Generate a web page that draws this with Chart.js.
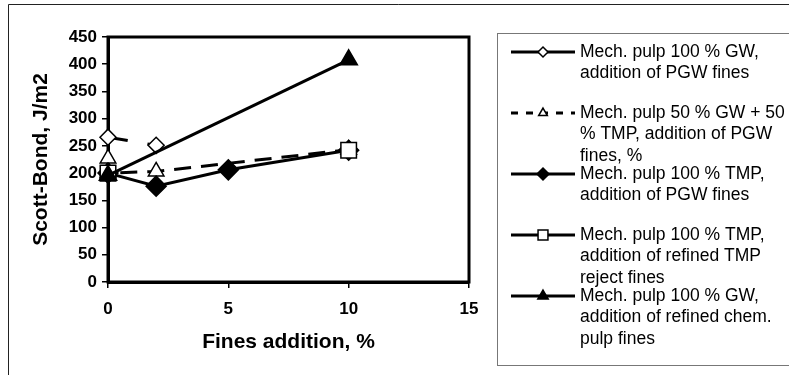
<!DOCTYPE html>
<html>
<head>
<meta charset="utf-8">
<script src="https://cdn.jsdelivr.net/npm/chart.js@4.4.1/dist/chart.umd.min.js"></script>
<style>
  html, body { margin: 0; padding: 0; background: #fff; }
  #wrap { width: 789px; height: 375px; }
</style>
</head>
<body>
<div id="wrap"><canvas id="scottChart" width="789" height="375"></canvas></div>
<script>
// Scott-Bond vs. fines addition
const gwPgwX = [0, 2];
const gwPgwY = [266, 251];
const mixPgwX = [0, 0, 2, 10];
const mixPgwY = [227, 200, 203, 243];
const tmpPgwX = [0, 2, 5, 10];
const tmpPgwY = [200, 176, 206, 242];
const tmpRejectX = [0, 10];
const tmpRejectY = [200, 242];
const gwChemX = [0, 10];
const gwChemY = [196, 408];

const xTicks = [0, 5, 10, 15];
const yTicks = [0, 50, 100, 150, 200, 250, 300, 350, 400, 450];

const legendLines = [
  ['Mech. pulp 100 % GW,', 'addition of PGW fines'],
  ['Mech. pulp 50 % GW + 50', '% TMP, addition of PGW', 'fines, %'],
  ['Mech. pulp 100 % TMP,', 'addition of PGW fines'],
  ['Mech. pulp 100 % TMP,', 'addition of refined TMP', 'reject fines'],
  ['Mech. pulp 100 % GW,', 'addition of refined chem.', 'pulp fines']
];

const FONT = '"Liberation Sans", Arial, sans-serif';
const pts = (xs, ys) => xs.map((x, i) => ({ x: x, y: ys[i] }));

const frameAndLegend = {
  id: 'frameAndLegend',
  beforeDatasetsDraw(chart) {
    const { ctx, chartArea: a } = chart;
    ctx.save();
    ctx.strokeStyle = '#000';
    ctx.lineWidth = 3;
    ctx.strokeRect(a.left, a.top, a.right - a.left, a.bottom - a.top);
    ctx.restore();
  },
  afterDraw(chart) {
    const ctx = chart.ctx;
    ctx.save();
    // outer chart border
    ctx.strokeStyle = '#222';
    ctx.lineWidth = 1;
    ctx.beginPath();
    ctx.moveTo(8.5, 375); ctx.lineTo(8.5, 4.5); ctx.lineTo(789, 4.5);
    ctx.stroke();
    // legend box
    ctx.strokeStyle = '#777';
    ctx.strokeRect(497.5, 33.5, 320, 332);

    ctx.font = '17.5px ' + FONT;
    ctx.textBaseline = 'middle';
    chart.data.datasets.forEach((ds, i) => {
      const y = 52 + i * 61;
      ctx.save();
      ctx.strokeStyle = '#000';
      ctx.lineWidth = 3;
      ctx.setLineDash(ds.legendDash);
      ctx.beginPath();
      ctx.moveTo(511, y); ctx.lineTo(575, y);
      ctx.stroke();
      ctx.setLineDash([]);
      ctx.fillStyle = ds.pointBackgroundColor;
      ctx.lineWidth = 1.5;
      Chart.helpers.drawPoint(ctx, {
        pointStyle: ds.pointStyle, radius: ds.legendRadius, rotation: 0, borderWidth: 1.5
      }, 543, y);
      ctx.restore();
      ctx.fillStyle = '#000';
      legendLines[i].forEach((t, k) => ctx.fillText(t, 580, y + k * 21.4));
    });
    ctx.restore();
  }
};

const base = {
  borderColor: '#000',
  borderWidth: 3,
  pointBorderColor: '#000',
  pointBorderWidth: 1.5,
  pointHoverRadius: 0,
  tension: 0,
  clip: false
};

new Chart(document.getElementById('scottChart').getContext('2d'), {
  type: 'line',
  data: {
    datasets: [
      Object.assign({}, base, {
        label: legendLines[0].join(' '),
        data: pts(gwPgwX, gwPgwY),
        borderDash: [20, 20],
        pointStyle: 'rectRot', pointRadius: 8,
        pointBackgroundColor: '#fff',
        legendDash: [], legendRadius: 5, order: 4
      }),
      Object.assign({}, base, {
        label: legendLines[1].join(' '),
        data: pts(mixPgwX, mixPgwY),
        borderDash: [17, 10],
        pointStyle: 'triangle', pointRadius: 9,
        pointBackgroundColor: '#fff',
        legendDash: [7, 8], legendRadius: 5, order: 3
      }),
      Object.assign({}, base, {
        label: legendLines[2].join(' '),
        data: pts(tmpPgwX, tmpPgwY),
        pointStyle: 'rectRot', pointRadius: 10,
        pointBackgroundColor: '#000',
        legendDash: [], legendRadius: 6, order: 2
      }),
      Object.assign({}, base, {
        label: legendLines[3].join(' '),
        data: pts(tmpRejectX, tmpRejectY),
        showLine: false,
        pointStyle: 'rect', pointRadius: 11,
        pointBackgroundColor: '#fff',
        legendDash: [], legendRadius: 7, order: 1
      }),
      Object.assign({}, base, {
        label: legendLines[4].join(' '),
        data: pts(gwChemX, gwChemY),
        pointStyle: 'triangle', pointRadius: 10,
        pointBackgroundColor: '#000',
        legendDash: [], legendRadius: 6, order: 0
      })
    ]
  },
  options: {
    responsive: false,
    animation: false,
    layout: { padding: { left: 0, top: 37, right: 320, bottom: 0 } },
    plugins: {
      legend: { display: false },
      tooltip: { enabled: false }
    },
    scales: {
      x: {
        type: 'linear',
        min: xTicks[0],
        max: xTicks[xTicks.length - 1],
        ticks: {
          stepSize: xTicks[1] - xTicks[0],
          padding: 11,
          color: '#000',
          font: { family: FONT, size: 17, weight: 'bold' }
        },
        grid: { drawOnChartArea: false, drawTicks: true, tickLength: 6, color: '#000', lineWidth: 1.5 },
        border: { display: true, color: '#000', width: 3 },
        title: {
          display: true,
          text: 'Fines addition, %',
          color: '#000',
          font: { family: FONT, size: 21, weight: 'bold' },
          padding: { top: 0, bottom: 20 }
        },
        afterFit(scale) { scale.height = 93; }
      },
      y: {
        min: yTicks[0],
        max: yTicks[yTicks.length - 1],
        ticks: {
          stepSize: yTicks[1] - yTicks[0],
          padding: 5,
          color: '#000',
          font: { family: FONT, size: 17, weight: 'bold' }
        },
        grid: { drawOnChartArea: false, drawTicks: true, tickLength: 6, color: '#000', lineWidth: 1.5 },
        border: { display: true, color: '#000', width: 3 },
        title: {
          display: true,
          text: 'Scott-Bond, J/m2',
          color: '#000',
          font: { family: FONT, size: 21, weight: 'bold' },
          padding: { top: 29, bottom: 0 }
        },
        afterFit(scale) { scale.width = 108; }
      }
    }
  },
  plugins: [frameAndLegend]
});
</script>
</body>
</html>
